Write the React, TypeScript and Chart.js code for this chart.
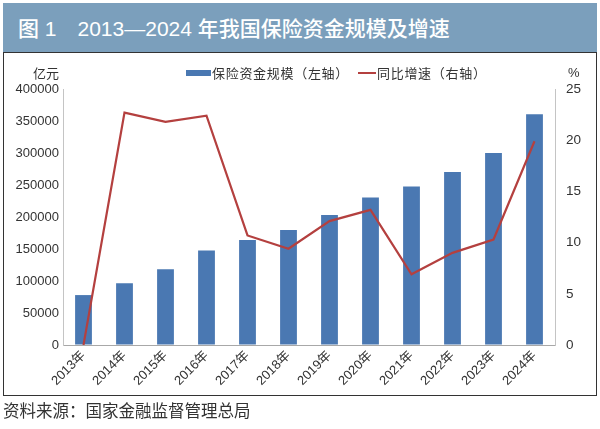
import React, { useEffect, useRef } from "react";
import { Chart, registerables } from "chart.js";

Chart.register(...registerables);

const years = ["2013年", "2014年", "2015年", "2016年", "2017年", "2018年", "2019年", "2020年", "2021年", "2022年", "2023年", "2024年"];
const fundScale = [78000, 96500, 118500, 147500, 164000, 179500, 203000, 230500, 247500, 270500, 300000, 360500];
const yoyGrowth = [0, 22.7, 21.8, 22.4, 10.7, 9.4, 12.1, 13.2, 6.9, 9.0, 10.3, 19.9];
const leftTicks = { min: 0, max: 400000, step: 50000 };
const rightTicks = { min: 0, max: 25, step: 5 };

const FONT = "'Liberation Sans', Arial, 'Noto Sans CJK SC', sans-serif";
const CJK = "'Noto Sans CJK SC', 'Liberation Sans', sans-serif";
const TITLE = "'Liberation Sans', 'Noto Sans CJK SC', sans-serif";

export default function App() {
  const ref = useRef<HTMLCanvasElement | null>(null);

  useEffect(() => {
    document.body.style.margin = "0";
    const canvas = ref.current;
    if (!canvas) return;
    const chart = new Chart(canvas, {
      type: "bar",
      data: {
        labels: years,
        datasets: [
          {
            type: "line",
            label: "同比增速（右轴）",
            data: yoyGrowth,
            yAxisID: "y1",
            borderColor: "#b4403f",
            backgroundColor: "#b4403f",
            borderWidth: 2.2,
            pointRadius: 0,
            tension: 0,
            order: 0,
          } as any,
          {
            type: "bar",
            label: "保险资金规模（左轴）",
            data: fundScale,
            yAxisID: "y",
            backgroundColor: "#4a78b2",
            borderWidth: 0,
            barPercentage: 0.41,
            categoryPercentage: 1,
            order: 1,
          } as any,
        ],
      },
      options: {
        responsive: false,
        animation: false,
        devicePixelRatio: 1,
        layout: { padding: { top: 89, left: 0, right: 0, bottom: 0 } },
        plugins: { legend: { display: false }, tooltip: { enabled: false } },
        scales: {
          x: {
            offset: true,
            grid: { display: true, color: "rgba(0,0,0,0)", drawTicks: false },
            border: { display: true, color: "#a8a8a8", width: 1 },
            ticks: {
              autoSkip: false,
              minRotation: 45,
              maxRotation: 45,
              padding: 3,
              color: "#333",
              font: { family: FONT, size: 13 },
            },
            afterFit: (s: any) => {
              s.height = 84;
            },
          },
          y: {
            position: "left",
            min: leftTicks.min,
            max: leftTicks.max,
            grid: { display: true, color: "rgba(0,0,0,0)", drawTicks: false },
            border: { display: true, color: "#c4c4c4", width: 1 },
            ticks: {
              stepSize: leftTicks.step,
              padding: 4,
              color: "#333",
              font: { family: FONT, size: 13 },
              callback: (v: any) => String(v),
            },
            afterFit: (s: any) => {
              s.width = 63;
            },
          },
          y1: {
            position: "right",
            min: rightTicks.min,
            max: rightTicks.max,
            grid: { display: false, drawTicks: false },
            border: { display: true, color: "#c4c4c4", width: 1 },
            ticks: {
              stepSize: rightTicks.step,
              padding: 11,
              color: "#333",
              font: { family: FONT, size: 13.5 },
              callback: (v: any) => String(v),
            },
            afterFit: (s: any) => {
              s.width = 45;
            },
          },
        },
      },
    });
    return () => chart.destroy();
  }, []);

  const abs = (o: React.CSSProperties): React.CSSProperties => ({ position: "absolute", ...o });

  return (
    <div style={{ position: "absolute", left: 0, top: 0, width: 600, height: 429, background: "#fff", overflow: "hidden" }}>
      <div style={abs({ left: 3, top: 3, width: 594, height: 49, background: "#7b9fbc" })} />
      <div
        style={abs({
          left: 18,
          top: 14,
          color: "#fff",
          fontFamily: TITLE,
          fontSize: 21,
          fontWeight: 500,
          whiteSpace: "nowrap",
          lineHeight: "30px",
        })}
      >
        图 1　2013—2024 年我国保险资金规模及增速
      </div>
      <div style={abs({ left: 3, top: 52, width: 592, height: 342, border: "1px solid #333" })} />
      <canvas ref={ref} width={600} height={429} style={abs({ left: 0, top: 0, width: 600, height: 429 })} />
      <div style={abs({ left: 33, top: 64, fontFamily: CJK, fontSize: 13, color: "#333", lineHeight: "18px" })}>亿元</div>
      <div style={abs({ left: 568, top: 64, fontFamily: FONT, fontSize: 13, color: "#333", lineHeight: "18px" })}>%</div>
      <div style={abs({ left: 186, top: 70, width: 25, height: 6, background: "#4a78b2" })} />
      <div style={abs({ left: 212, top: 64, fontFamily: CJK, fontSize: 13, color: "#333", lineHeight: "18px", whiteSpace: "nowrap", letterSpacing: 0.7 })}>
        保险资金规模（左轴）
      </div>
      <div style={abs({ left: 358, top: 72, width: 18, height: 2, background: "#b4403f" })} />
      <div style={abs({ left: 377, top: 64, fontFamily: CJK, fontSize: 13, color: "#333", lineHeight: "18px", whiteSpace: "nowrap", letterSpacing: 0.7 })}>
        同比增速（右轴）
      </div>
      <div style={abs({ left: 3, top: 399, fontFamily: CJK, fontSize: 16.5, color: "#333", lineHeight: "22px", whiteSpace: "nowrap" })}>
        资料来源：国家金融监督管理总局
      </div>
    </div>
  );
}
